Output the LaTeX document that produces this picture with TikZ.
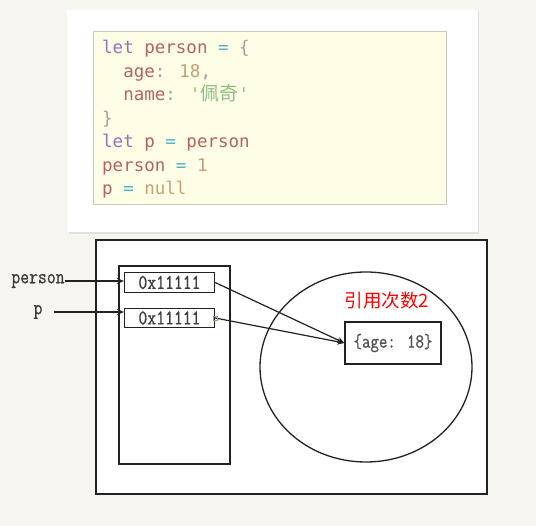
\documentclass[tikz,border=0pt]{standalone}
\usepackage{fontspec}
\newfontfamily\codefont{DejaVu Sans Mono}
\newfontfamily\cjk{Noto Sans CJK SC}
\newfontfamily\memfont{Latin Modern Mono}[FakeStretch=0.82, FakeBold=0.8]
\usetikzlibrary{arrows.meta,shapes.geometric}
\definecolor{bgc}{HTML}{F7F5F0}
\definecolor{codebg}{HTML}{FEFEE6}
\definecolor{codeborder}{HTML}{C8C8C0}
\definecolor{kw}{HTML}{9B6FB8}
\definecolor{vr}{HTML}{B4645E}
\definecolor{op}{HTML}{52B4C4}
\definecolor{pu}{HTML}{A0A0A0}
\definecolor{nm}{HTML}{C59E78}
\definecolor{st}{HTML}{8CBE80}
\definecolor{memtext}{HTML}{3C3C3C}
\definecolor{objtext}{HTML}{505050}
\definecolor{linec}{HTML}{222222}
\newcommand{\K}[1]{\textcolor{kw}{#1}}
\newcommand{\V}[1]{\textcolor{vr}{#1}}
\newcommand{\Op}[1]{\textcolor{op}{#1}}
\newcommand{\Pu}[1]{\textcolor{pu}{#1}}
\newcommand{\N}[1]{\textcolor{nm}{#1}}
\newcommand{\Str}[1]{\textcolor{st}{#1}}
\tikzset{
  codeline/.style={anchor=base west, inner sep=0pt, font=\codefont\fontsize{17.5}{20}\selectfont},
  memtxt/.style={text=memtext, font=\memfont\fontsize{21}{23}\selectfont},
  cell/.style={draw=linec, line width=1.3pt, minimum width=90pt, minimum height=19.5pt, inner sep=0pt, memtxt},
  varlabel/.style={inner sep=0pt, memtxt},
  arr/.style={draw=linec, line width=1.2pt, -{Stealth[length=7pt,width=6pt]}},
  shape line/.style={draw=linec, line width=1.3pt},
}
\begin{document}
\begin{tikzpicture}[x=1pt,y=-1pt]
\useasboundingbox (0,0) rectangle (536,526);
\fill[bgc] (0,0) rectangle (536,526);
% top card
\fill[black!12] (68.5,11.5) rectangle (479,234.5);
\fill[white] (67,10) rectangle (477.5,232.5);
\draw[draw=codeborder, fill=codebg, line width=0.8pt] (93,31) rectangle (446,204);
\node[codeline] (l1) at (102,54) {\K{let} \V{person} \Op{=} \Pu{\{}};
\node[codeline] (l2) at (102,77.5) {\ \ \V{age}\Pu{:} \N{18}\Pu{,}};
\node[codeline] (l3) at (102,101) {\ \ \V{name}\Pu{:} \Str{'{\cjk\fontsize{19}{20}\selectfont 佩奇}'}};
\node[codeline] (l4) at (102,124.5) {\Pu{\}}};
\node[codeline] (l5) at (102,148) {\K{let} \V{p} \Op{=} \V{person}};
\node[codeline] (l6) at (102,171.5) {\V{person} \Op{=} \N{1}};
\node[codeline] (l7) at (102,195) {\V{p} \Op{=} \N{null}};
% memory diagram
\draw[shape line, fill=white] (96,240) rectangle (487,494);
\node[shape line, minimum width=111pt, minimum height=198pt, inner sep=0pt] (stack) at (174.5,365) {};
\node[cell] (c1) at (169.5,282.5) {0x11111};
\node[cell] (c2) at (169.5,318) {0x11111};
\node[shape line, ellipse, minimum width=212pt, minimum height=190pt, inner sep=0pt] (heap) at (366,367) {};
\node[shape line, minimum width=96pt, minimum height=42pt, inner sep=0pt, text=objtext, font=\memfont\fontsize{20}{22}\selectfont] (obj) at (393,343) {\{age: 18\}};
\node[text=red, inner sep=0pt, font=\cjk\fontsize{18.5}{20}\selectfont] (count) at (387,301) {引用次数2};
\node[varlabel] (person) at (38,281) {person};
\node[varlabel] (p) at (38,312) {p};
\draw[arr] (person.east) -- (person.east -| c1.west);
\draw[arr] ([xshift=11pt]p.east) -- (p.east -| c2.west);
\draw[arr] (c1.east) -- (obj.west);
\draw[arr] (c2.east) -- (obj.west);
\draw[green!45!black!55, line width=0.6pt] ([shift={(-2,-2)}]c2.east) rectangle ([shift={(2,2)}]c2.east);
\end{tikzpicture}
\end{document}
